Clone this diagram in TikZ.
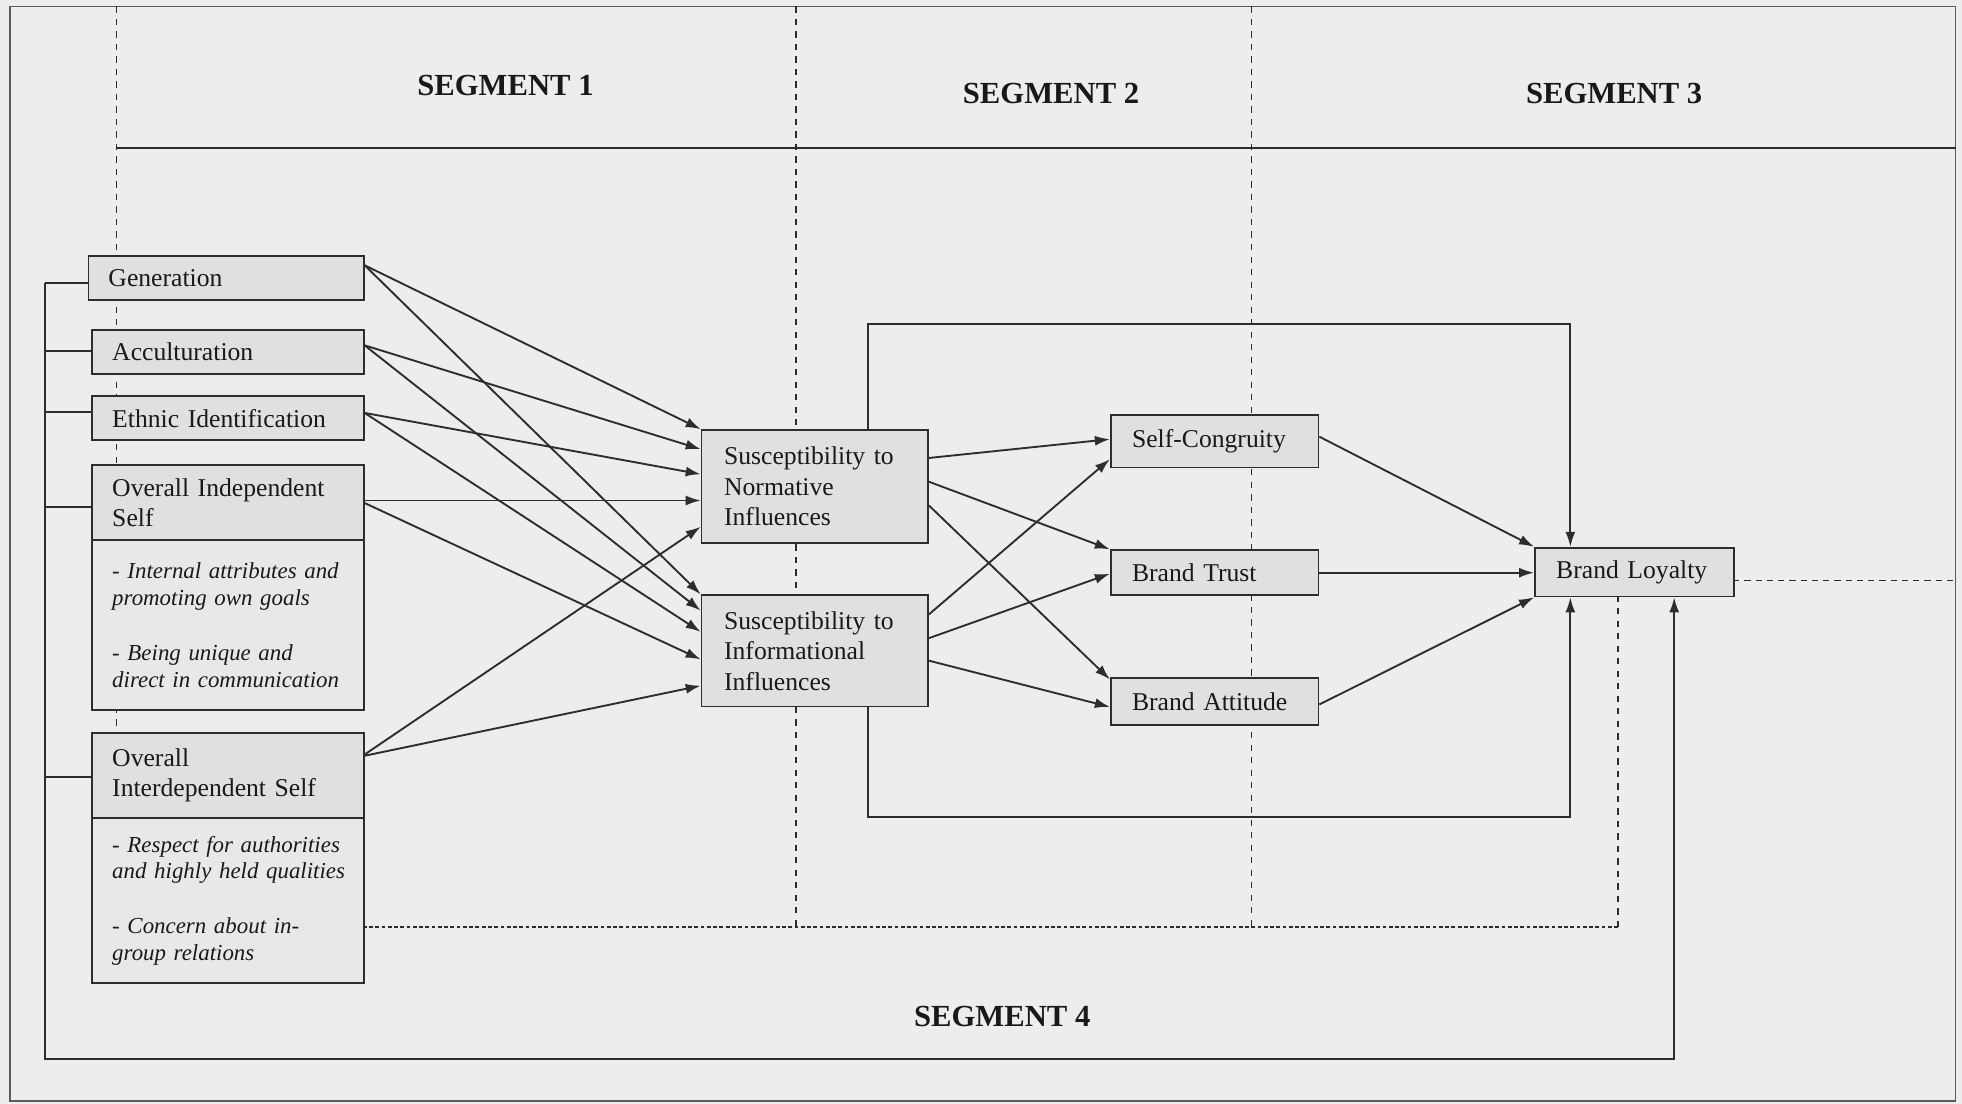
\documentclass[tikz,border=0pt]{standalone}
\usepackage{fontspec}
\setmainfont{Liberation Serif}
\usetikzlibrary{arrows.meta,calc}
\definecolor{bgc}{RGB}{237,237,237}
\definecolor{boxc}{RGB}{224,224,224}
\definecolor{bodyc}{RGB}{232,232,232}
\definecolor{lnc}{RGB}{45,45,45}
\definecolor{frc}{RGB}{90,90,90}
\definecolor{txc}{RGB}{25,25,25}
\newcommand\mainfs{\fontsize{20.5pt}{24.5pt}\selectfont}
\newcommand\bodyfs{\fontsize{18.3pt}{21.5pt}\selectfont\itshape}
\newcommand\segfs{\fontsize{24.5pt}{28pt}\selectfont\bfseries}
\begin{document}
\begin{tikzpicture}[x=1pt,y=-1pt,
  box/.style={draw=lnc, fill=boxc, line width=1.4pt, anchor=north west, inner xsep=16pt, inner ysep=0pt, align=left, font=\mainfs, text=txc},
  bodybox/.style={box, fill=bodyc, font=\bodyfs},
  arr/.style={draw=lnc, line width=1.5pt, -{Latex[length=12pt,width=8pt]}},
  conn/.style={draw=lnc, line width=1.5pt},
  segdash/.style={draw=lnc, line width=1.2pt, dash pattern=on 5pt off 5pt},
  rdash/.style={draw=lnc, line width=1.3pt, dash pattern=on 5pt off 4pt},
  dotdash/.style={draw=lnc, line width=1.5pt, dash pattern=on 3pt off 2pt},
  seglabel/.style={font=\segfs, text=txc}
]
\fill[bgc] (0,0) rectangle (1568,882);
\useasboundingbox (0,0) rectangle (1568,882);

% frame and header line
\draw[frc, line width=1.1pt] (8,5) rectangle (1563,880);
\draw[conn] (93,118) -- (1563,118);

% segment dividers
\draw[segdash] (93,5) -- (93,741);
\draw[segdash] (636,5) -- (636,741);
\draw[segdash] (1000,5) -- (1000,741);
\draw[segdash] (1293,476) -- (1293,741);
\draw[dotdash] (290,741) -- (1293,741);
\draw[rdash] (1385,464) -- (1563,464);

% segment labels
\node[seglabel] (s1) at (404,68) {SEGMENT 1};
\node[seglabel] (s2) at (840,75) {SEGMENT 2};
\node[seglabel] (s3) at (1290,75) {SEGMENT 3};
\node[seglabel] (s4) at (801,812) {SEGMENT 4};

% left boxes
\node[box, minimum width=220pt, minimum height=35pt, text width=188pt] (gen) at (70,204) {Generation};
\node[box, minimum width=217pt, minimum height=35pt, text width=185pt] (acc) at (73,263) {Acculturation};
\node[box, minimum width=217pt, minimum height=35pt, text width=185pt] (eth) at (73,316) {Ethnic Identification};
\node[box, minimum width=217pt, minimum height=60pt, text width=185pt] (indh) at (73,371) {Overall Independent\\Self};
\node[bodybox, minimum width=217pt, minimum height=136pt, text width=185pt] (indb) at (73,431) {\mbox{- Internal attributes and}\\\mbox{promoting own goals}\\[22pt]\mbox{- Being unique and}\\\mbox{direct in communication}};
\node[box, minimum width=217pt, minimum height=68pt, text width=185pt] (inth) at (73,585) {Overall\\Interdependent Self};
\node[bodybox, minimum width=217pt, minimum height=132pt, text width=185pt] (intb) at (73,653) {\mbox{- Respect for authorities}\\\mbox{and highly held qualities}\\[22pt]\mbox{- Concern about in-}\\\mbox{group relations}};

% middle boxes
\node[box, inner xsep=18pt, minimum width=181pt, minimum height=90pt, text width=145pt] (norm) at (560,343) {Susceptibility to\\Normative\\Influences};
\node[box, inner xsep=18pt, minimum width=181pt, minimum height=89pt, text width=145pt] (info) at (560,475) {Susceptibility to\\Informational\\Influences};

% right boxes
\node[box, inner xsep=17pt, minimum width=166pt, minimum height=42pt, text width=132pt] (sc) at (887,331) {Self-Congruity};
\node[box, inner xsep=17pt, minimum width=166pt, minimum height=36pt, text width=132pt] (bt) at (887,439) {Brand Trust};
\node[box, inner xsep=17pt, minimum width=166pt, minimum height=38pt, text width=132pt] (ba) at (887,541) {Brand Attitude};
\node[box, inner xsep=17pt, minimum width=159pt, minimum height=39pt, text width=125pt] (bl) at (1226,437) {Brand Loyalty};

% segment 1 -> segment 2
\draw[arr] ($(gen.north east)+(0,8)$) -- (norm.north west);
\draw[arr] ($(gen.north east)+(0,8)$) -- (info.north west);
\draw[arr] ($(acc.north east)+(0,13)$) -- ($(norm.north west)+(0,16)$);
\draw[arr] ($(acc.north east)+(0,13)$) -- ($(info.north west)+(0,13)$);
\draw[arr] ($(eth.north east)+(0,14)$) -- ($(norm.north west)+(0,36)$);
\draw[arr] ($(eth.north east)+(0,14)$) -- ($(info.north west)+(0,30)$);
\draw[arr] ($(indh.north east)+(0,29)$) -- ($(norm.north west)+(0,57)$);
\draw[arr] ($(indh.north east)+(0,31)$) -- ($(info.north west)+(0,52)$);
\draw[arr] ($(inth.north east)+(0,18)$) -- ($(norm.north west)+(0,78)$);
\draw[arr] ($(inth.north east)+(0,19)$) -- ($(info.north west)+(0,73)$);

% segment 2 -> segment 3
\draw[arr] ($(norm.north east)+(0,23)$) -- ($(sc.north west)+(0,20)$);
\draw[arr] ($(norm.north east)+(0,42)$) -- (bt.north west);
\draw[arr] ($(norm.north east)+(0,61)$) -- ($(ba.north west)+(0,2)$);
\draw[arr] ($(info.north east)+(0,16)$) -- ($(sc.north west)+(0,36)$);
\draw[arr] ($(info.north east)+(0,35)$) -- ($(bt.north west)+(0,19.5)$);
\draw[arr] ($(info.north east)+(0,53)$) -- ($(ba.north west)+(0,24)$);

% segment 3 -> loyalty
\draw[arr] ($(sc.north east)+(0,18)$) -- (bl.north west);
\draw[arr] (bt.east) -- (bt.east -| bl.west);
\draw[arr] ($(ba.north east)+(0,22)$) -- (bl.south west);

% loops from segment 2 to loyalty
\coordinate (tA) at (694,259);
\coordinate (tB) at (1255,259);
\draw[arr] (norm.north -| tA) -- (tA) -- (tB) -- (tB |- bl.north);
\coordinate (bA) at (694,653);
\coordinate (bB) at (1255,653);
\draw[arr] (info.south -| bA) -- (bA) -- (bB) -- (bB |- bl.south);

% bus from segment 1 to loyalty
\coordinate (busT) at (36,226);
\coordinate (busB) at (36,846);
\coordinate (busR) at (1338,846);
\draw[arr] (busT) -- (busB) -- (busR) -- (busR |- bl.south);
\coordinate (pg) at ($(gen.north west)+(0,22)$);
\coordinate (pa) at ($(acc.north west)+(0,17.5)$);
\coordinate (pe) at ($(eth.north west)+(0,13)$);
\coordinate (pi) at ($(indh.north west)+(0,34)$);
\coordinate (pt) at ($(inth.north west)+(0,36)$);
\draw[conn] (pg) -- (pg -| busT);
\draw[conn] (pa) -- (pa -| busT);
\draw[conn] (pe) -- (pe -| busT);
\draw[conn] (pi) -- (pi -| busT);
\draw[conn] (pt) -- (pt -| busT);
\end{tikzpicture}
\end{document}
